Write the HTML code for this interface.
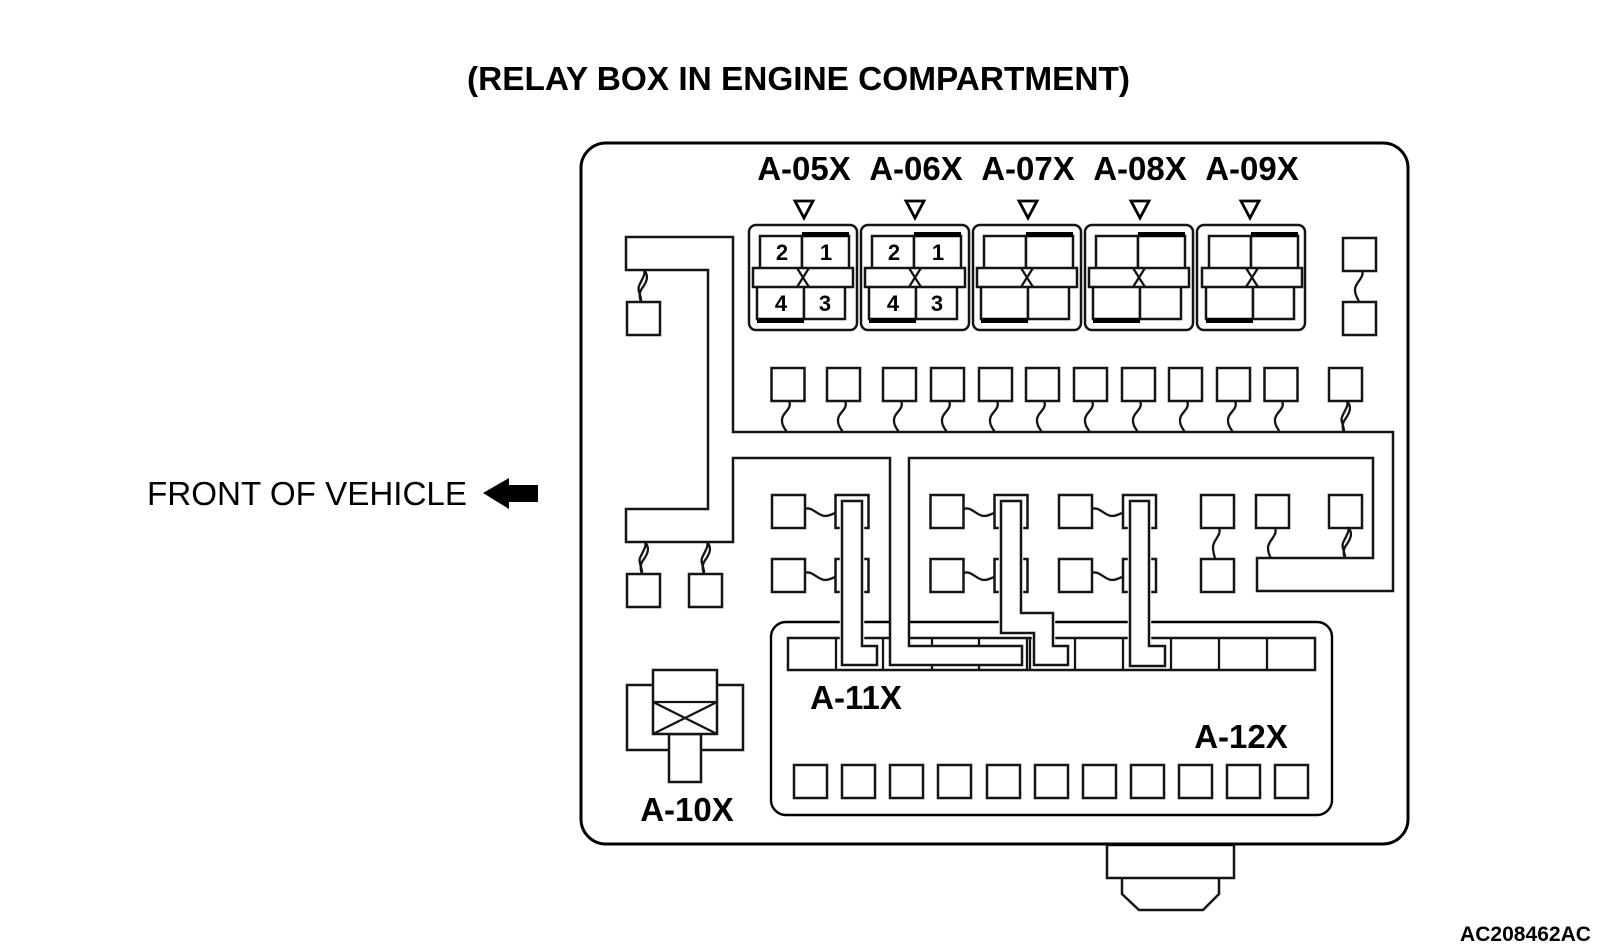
<!DOCTYPE html>
<html>
<head>
<meta charset="utf-8">
<title>Relay box in engine compartment</title>
<style>
html,body{margin:0;padding:0;background:#fff;width:1600px;height:950px;overflow:hidden}
svg{display:block}
text{font-family:"Liberation Sans",Arial,sans-serif;fill:#000}
.b{font-weight:bold}
.l{font-weight:bold;font-size:33px;text-anchor:middle}
.d{font-weight:bold;font-size:22px;text-anchor:middle}
.s{fill:#fff;stroke:#141414;stroke-width:2.5}
.w{fill:none;stroke:#141414;stroke-width:2.3}
.h{fill:none;stroke:#fff;stroke-width:4.5}
</style>
</head>
<body>
<svg width="1600" height="950" viewBox="0 0 1600 950" xmlns="http://www.w3.org/2000/svg">
<defs>
<rect id="q" class="s" x="0" y="0" width="33" height="33"/>
<path id="wv" class="w" d="M1 0 C5 8,-7 12,-6 20 C-6 26,-2 28,-1 32"/>
<path id="tw" class="w" d="M1 0 C6 6,4 11,0 17 C-4 22,-4 26,-2 32 M1 0 C3 4,-1 9,-4 16 C-6 20,-1 27,-2 32"/>
<path id="hw" class="w" d="M0 0 C7 -3,13 7,20 7 C25 7,27 5,30 4"/>
<rect id="ro" class="s" x="0" y="0" width="108" height="105" rx="7" ry="7"/>
<g id="ri">
<rect class="s" x="12" y="11" width="42" height="34"/>
<rect class="s" x="54" y="11" width="47" height="34"/>
<rect x="54" y="7" width="47" height="5" fill="#000"/>
<rect class="s" x="9" y="61" width="47" height="33"/>
<rect class="s" x="56" y="61" width="41" height="33"/>
<rect x="9" y="93" width="47" height="5" fill="#000"/>
<rect class="s" x="5" y="43" width="100" height="19"/>
<path class="w" d="M49 43 L61 62 M61 43 L49 62"/>
</g>
</defs>

<text class="b" x="467" y="90" font-size="33" textLength="663" lengthAdjust="spacingAndGlyphs">(RELAY BOX IN ENGINE COMPARTMENT)</text>
<text x="147" y="505" font-size="33" textLength="320" lengthAdjust="spacingAndGlyphs">FRONT OF VEHICLE</text>
<polygon points="483,493 509,478 509,485 538,485 538,502 509,502 509,509" fill="#000"/>
<text class="b" x="1460" y="941" font-size="20.8" textLength="131" lengthAdjust="spacingAndGlyphs">AC208462AC</text>

<!-- bottom connector -->
<path class="s" d="M1122 878 V894 L1139 910 H1203 L1219 894 V878" stroke-width="2.8"/>
<rect class="s" x="1107" y="845" width="127" height="33" stroke-width="2.8"/>

<!-- outer case -->
<rect x="581" y="143" width="827" height="701" rx="25" ry="25" fill="#fff" stroke="#000" stroke-width="3"/>

<!-- labels -->
<text class="l" x="804" y="180">A-05X</text>
<text class="l" x="916" y="180">A-06X</text>
<text class="l" x="1028" y="180">A-07X</text>
<text class="l" x="1140" y="180">A-08X</text>
<text class="l" x="1252" y="180">A-09X</text>

<g fill="#fff" stroke="#000" stroke-width="2.8">
<polygon points="795,201 813,201 804,218"/>
<polygon points="906,201 924,201 915,218"/>
<polygon points="1019,201 1037,201 1028,218"/>
<polygon points="1131,201 1149,201 1140,218"/>
<polygon points="1241,201 1259,201 1250,218"/>
</g>

<!-- relays -->
<use href="#ro" x="749" y="225"/><use href="#ri" x="748" y="225"/>
<use href="#ro" x="861" y="225"/><use href="#ri" x="860" y="225"/>
<use href="#ro" x="973" y="225"/><use href="#ri" x="972" y="225"/>
<use href="#ro" x="1085" y="225"/><use href="#ri" x="1084" y="225"/>
<use href="#ro" x="1197" y="225"/><use href="#ri" x="1197" y="225"/>
<text class="d" x="782" y="260">2</text>
<text class="d" x="826" y="260">1</text>
<text class="d" x="781" y="311">4</text>
<text class="d" x="825" y="311">3</text>
<text class="d" x="894" y="260">2</text>
<text class="d" x="938" y="260">1</text>
<text class="d" x="893" y="311">4</text>
<text class="d" x="937" y="311">3</text>

<!-- top right pair -->
<use href="#q" x="1343" y="238"/>
<use href="#q" x="1343" y="302"/>
<path class="w" d="M1362 270 C1365 278,1355 282,1355 290 C1355 296,1358 298,1359 302"/>

<!-- left stubs -->
<use href="#q" x="627" y="302"/>
<use href="#q" x="627" y="574"/>
<use href="#q" x="689" y="574"/>
<use href="#tw" x="643" y="270"/>
<use href="#tw" x="644" y="542"/>
<use href="#tw" x="706" y="542"/>

<!-- row of squares above trunk -->
<use href="#q" x="771.5" y="368"/>
<use href="#q" x="827" y="368"/>
<use href="#q" x="883" y="368"/>
<use href="#q" x="931" y="368"/>
<use href="#q" x="979" y="368"/>
<use href="#q" x="1026" y="368"/>
<use href="#q" x="1074" y="368"/>
<use href="#q" x="1122" y="368"/>
<use href="#q" x="1169" y="368"/>
<use href="#q" x="1217" y="368"/>
<use href="#q" x="1264.5" y="368"/>
<use href="#q" x="1329" y="368"/>
<use href="#wv" x="788" y="401"/>
<use href="#wv" x="844" y="401"/>
<use href="#wv" x="900" y="401"/>
<use href="#wv" x="948" y="401"/>
<use href="#wv" x="996" y="401"/>
<use href="#wv" x="1043" y="401"/>
<use href="#wv" x="1091" y="401"/>
<use href="#wv" x="1139" y="401"/>
<use href="#wv" x="1186" y="401"/>
<use href="#wv" x="1234" y="401"/>
<use href="#wv" x="1281" y="401"/>
<use href="#tw" x="1346" y="401"/>

<!-- middle groups -->
<use href="#q" x="772" y="495"/><use href="#q" x="772" y="559"/>
<use href="#q" x="835.5" y="495"/><use href="#q" x="835.5" y="559"/>
<use href="#q" x="930.5" y="495"/><use href="#q" x="930.5" y="559"/>
<use href="#q" x="994.5" y="495"/><use href="#q" x="994.5" y="559"/>
<use href="#q" x="1059" y="495"/><use href="#q" x="1059" y="559"/>
<use href="#q" x="1123" y="495"/><use href="#q" x="1123" y="559"/>
<use href="#q" x="1201" y="495"/><use href="#q" x="1201" y="559"/>
<use href="#q" x="1256" y="495"/>
<use href="#q" x="1329" y="495"/>
<use href="#hw" x="805" y="509"/><use href="#hw" x="805" y="573"/>
<use href="#hw" x="964" y="509"/><use href="#hw" x="964" y="573"/>
<use href="#hw" x="1092" y="509"/><use href="#hw" x="1092" y="573"/>
<path class="w" d="M1219 528 C1222 535,1213 540,1213 547 C1213 552,1214 555,1215 558"/>
<path class="w" d="M1275 528 C1278 535,1269 540,1268 547 C1268 552,1269 555,1271 558"/>
<use href="#tw" x="1347" y="527"/>

<!-- A-10X -->
<rect class="s" x="627" y="685" width="116" height="65"/>
<rect class="s" x="669" y="734" width="32" height="48"/>
<rect class="s" x="653" y="670" width="64" height="64"/>
<path class="w" d="M653 702 H717 M653 702 L717 734 M717 702 L653 734"/>
<text class="l" x="687" y="821">A-10X</text>

<!-- panel -->
<rect x="771" y="622" width="561" height="193" rx="15" ry="15" fill="#fff" stroke="#000" stroke-width="2.4"/>
<rect class="s" x="788" y="638" width="527" height="32"/>
<path class="w" d="M836 638 V670 M883 638 V670 M932 638 V670 M979 638 V670 M1027 638 V670 M1030 638 V670 M1075 638 V670 M1123 638 V670 M1171 638 V670 M1219 638 V670 M1267 638 V670"/>
<text class="l" x="856" y="709">A-11X</text>
<text class="l" x="1241" y="748">A-12X</text>
<use href="#q" x="794" y="765"/>
<use href="#q" x="842" y="765"/>
<use href="#q" x="890" y="765"/>
<use href="#q" x="938" y="765"/>
<use href="#q" x="987" y="765"/>
<use href="#q" x="1035" y="765"/>
<use href="#q" x="1083" y="765"/>
<use href="#q" x="1131" y="765"/>
<use href="#q" x="1179" y="765"/>
<use href="#q" x="1227" y="765"/>
<use href="#q" x="1275" y="765"/>

<!-- main trunk -->
<path class="s" d="M626 237 H733 V432 H1393 V591 H1257 V558 H1373 V458 H909 V646 H1022 V665 H890 V458 H733 V542 H626 V509 H708 V270 H626 Z"/>

<!-- L-shaped harnesses -->
<path class="h" d="M842 501 H862 V646 H877 V665 H842 Z"/>
<path class="s" d="M842 501 H862 V646 H877 V665 H842 Z"/>
<path class="h" d="M1001 501 H1021 V613 H1053 V646 H1068 V665 H1034 V633 H1001 Z"/>
<path class="s" d="M1001 501 H1021 V613 H1053 V646 H1068 V665 H1034 V633 H1001 Z"/>
<path class="h" d="M1130 501 H1149 V646 H1165 V666 H1130 Z"/>
<path class="s" d="M1130 501 H1149 V646 H1165 V666 H1130 Z"/>
</svg>
</body>
</html>
